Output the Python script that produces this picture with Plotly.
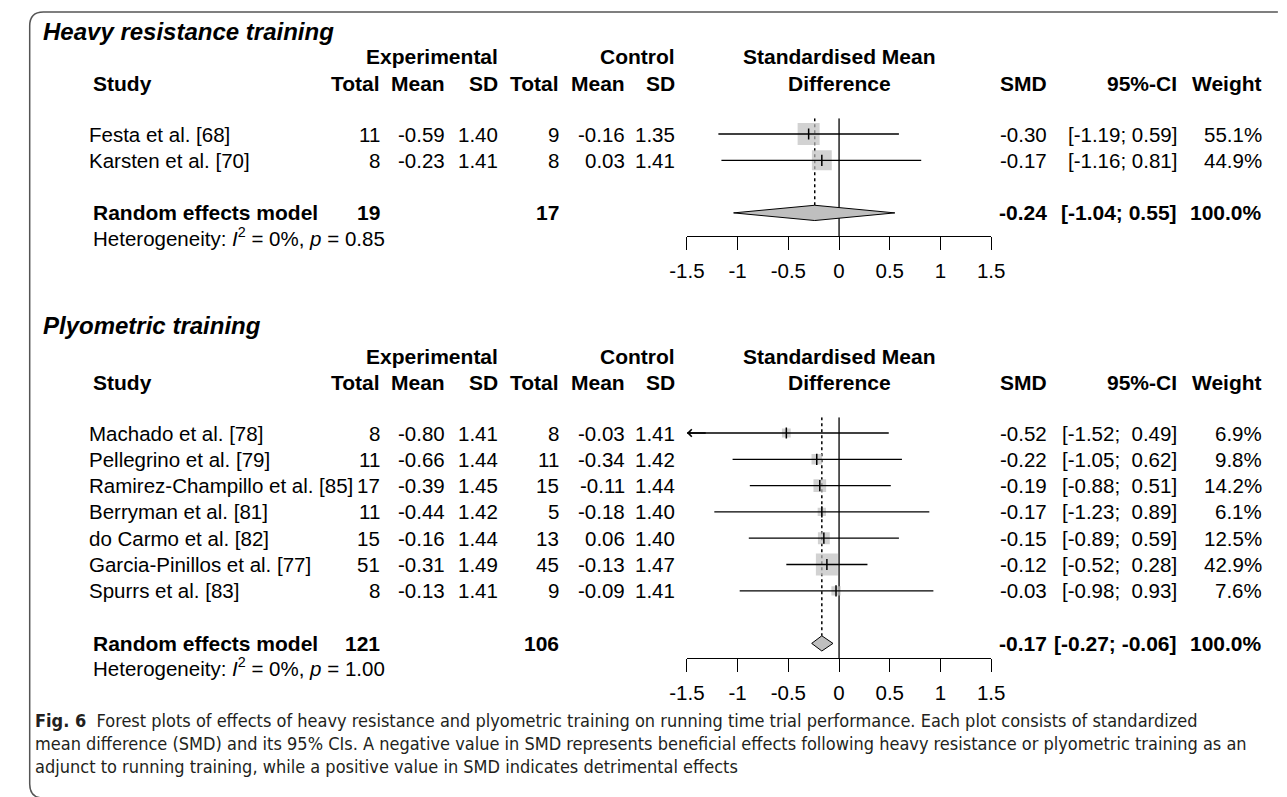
import plotly.graph_objects as go
import numpy as np

W, H = 1287, 797
FONT = "Liberation Sans, Arial, Helvetica, sans-serif"
CAP_FONT = "Liberation Sans Narrow, Arial Narrow, DejaVu Sans Condensed, sans-serif"
FS = 20.5
FS_HDR = 21

# ---------------- data ----------------
tick_vals = [-1.5, -1, -0.5, 0, 0.5, 1, 1.5]
tick_text = ["-1.5", "-1", "-0.5", "0", "0.5", "1", "1.5"]

hr_title = "Heavy resistance training"
hr_studies = ["Festa et al. [68]", "Karsten et al. [70]"]
hr_e_total = [11, 8]
hr_e_mean = [-0.59, -0.23]
hr_e_sd = [1.40, 1.41]
hr_c_total = [9, 8]
hr_c_mean = [-0.16, 0.03]
hr_c_sd = [1.35, 1.41]
hr_smd = [-0.30, -0.17]
hr_lo = [-1.19, -1.16]
hr_hi = [0.59, 0.81]
hr_weight = [55.1, 44.9]
hr_pool_e_total = 19
hr_pool_c_total = 17
hr_pool_smd = -0.24
hr_pool_lo = -1.04
hr_pool_hi = 0.55
hr_pool_weight = 100.0
hr_i2 = "0%"
hr_p = "0.85"

pl_title = "Plyometric training"
pl_studies = ["Machado et al. [78]", "Pellegrino et al. [79]", "Ramirez-Champillo et al. [85]",
              "Berryman et al. [81]", "do Carmo et al. [82]", "Garcia-Pinillos et al. [77]",
              "Spurrs et al. [83]"]
pl_e_total = [8, 11, 17, 11, 15, 51, 8]
pl_e_mean = [-0.80, -0.66, -0.39, -0.44, -0.16, -0.31, -0.13]
pl_e_sd = [1.41, 1.44, 1.45, 1.42, 1.44, 1.49, 1.41]
pl_c_total = [8, 11, 15, 5, 13, 45, 9]
pl_c_mean = [-0.03, -0.34, -0.11, -0.18, 0.06, -0.13, -0.09]
pl_c_sd = [1.41, 1.42, 1.44, 1.40, 1.40, 1.47, 1.41]
pl_smd = [-0.52, -0.22, -0.19, -0.17, -0.15, -0.12, -0.03]
pl_lo = [-1.52, -1.05, -0.88, -1.23, -0.89, -0.52, -0.98]
pl_hi = [0.49, 0.62, 0.51, 0.89, 0.59, 0.28, 0.93]
pl_weight = [6.9, 9.8, 14.2, 6.1, 12.5, 42.9, 7.6]
pl_pool_e_total = 121
pl_pool_c_total = 106
pl_pool_smd = -0.17
pl_pool_lo = -0.27
pl_pool_hi = -0.06
pl_pool_weight = 100.0
pl_i2 = "0%"
pl_p = "1.00"

caption_lines = [
    "<b>Fig. 6</b>  Forest plots of effects of heavy resistance and plyometric training on running time trial performance. Each plot consists of standardized",
    "mean difference (SMD) and its 95% CIs. A negative value in SMD represents beneficial effects following heavy resistance or plyometric training as an",
    "adjunct to running training, while a positive value in SMD indicates detrimental effects",
]

# ---------------- layout (pixels) ----------------
ROW_H = 26.3
X_STUDY, X_LAB, X_TITLE = 72, 76, 25
COLS = dict(e_total=372, e_mean=439, e_sd=493, c_total=556, c_mean=623, c_sd=675,
            smd=1056, ci=1190, w=1277)
PLOT_L, PLOT_R = 686, 998
PLOT_C = (PLOT_L + PLOT_R) / 2
XMIN, XMAX = -1.5, 1.5
SQ_MAX = 22
DH = 0.29
GRAY = "#bfbfbf"

panels = [
    dict(title_y=32, exp_y=57, hdr_y=83, row1=134, axis_y=236),
    dict(title_y=325, exp_y=356, hdr_y=382, row1=433, axis_y=658),
]
CAP_Y0, CAP_DY = 720, 23


def fx(px):
    return px / W


def fy(py):
    return 1 - py / H


fig = go.Figure()
annotations = []
shapes = []


def txt(px, py, s, anchor="right", size=FS, family=FONT, color="black"):
    annotations.append(dict(x=fx(px), y=fy(py), xref="paper", yref="paper", text=s,
                            showarrow=False, xanchor=anchor, yanchor="middle", borderpad=0,
                            font=dict(family=family, size=size, color=color)))


def ci_str(lo, hi, hi_all):
    fmt_hi = [f"{v:.2f}" for v in hi_all]
    width = max(len(s) for s in fmt_hi)
    h = f"{hi:.2f}"
    pad = "\u00a0" * (width - len(h))
    return f"[{lo:.2f}; {pad}{h}]"


def panel(idx, geo, title, studies, e_tot, e_mean, e_sd, c_tot, c_mean, c_sd,
          smd, lo, hi, wt, p_et, p_ct, p_smd, p_lo, p_hi, p_w, i2, pval):
    xa = "x" if idx == 0 else "x2"
    ya = "y" if idx == 0 else "y2"
    xlay = "xaxis" if idx == 0 else "xaxis2"
    ylay = "yaxis" if idx == 0 else "yaxis2"
    k = len(studies)
    rows = list(range(1, k + 1))
    model_r = k + 2

    def rpx(r):
        return geo["row1"] + (r - 1) * ROW_H

    r_top = 1 - 0.6
    r_bot = 1 + (geo["axis_y"] - geo["row1"]) / ROW_H

    # headers
    txt(X_TITLE, geo["title_y"], f"<b><i>{title}</i></b>", anchor="left", size=24)
    txt(COLS["e_sd"], geo["exp_y"], "<b>Experimental</b>", size=FS_HDR)
    txt(COLS["c_sd"], geo["exp_y"], "<b>Control</b>", size=FS_HDR)
    txt(PLOT_C, geo["exp_y"], "<b>Standardised Mean</b>", anchor="center", size=FS_HDR)
    txt(X_LAB, geo["hdr_y"], "<b>Study</b>", anchor="left", size=FS_HDR)
    for c, lab in [("e_total", "Total"), ("e_mean", "Mean"), ("e_sd", "SD"),
                   ("c_total", "Total"), ("c_mean", "Mean"), ("c_sd", "SD"),
                   ("smd", "SMD"), ("ci", "95%-CI"), ("w", "Weight")]:
        txt(COLS[c], geo["hdr_y"], f"<b>{lab}</b>", size=FS_HDR)
    txt(PLOT_C, geo["hdr_y"], "<b>Difference</b>", anchor="center", size=FS_HDR)

    hi_all = list(hi) + [p_hi]
    for i, r in enumerate(rows):
        y = rpx(r)
        txt(X_STUDY, y, studies[i], anchor="left")
        txt(COLS["e_total"], y, f"{e_tot[i]}")
        txt(COLS["e_mean"], y, f"{e_mean[i]:.2f}")
        txt(COLS["e_sd"], y, f"{e_sd[i]:.2f}")
        txt(COLS["c_total"], y, f"{c_tot[i]}")
        txt(COLS["c_mean"], y, f"{c_mean[i]:.2f}")
        txt(COLS["c_sd"], y, f"{c_sd[i]:.2f}")
        txt(COLS["smd"], y, f"{smd[i]:.2f}")
        txt(COLS["ci"], y, ci_str(lo[i], hi[i], hi_all))
        txt(COLS["w"], y, f"{wt[i]:.1f}%")

    ym = rpx(model_r)
    txt(X_LAB, ym, "<b>Random effects model</b>", anchor="left", size=FS_HDR)
    txt(COLS["e_total"], ym, f"<b>{p_et}</b>", size=FS_HDR)
    txt(COLS["c_total"], ym, f"<b>{p_ct}</b>", size=FS_HDR)
    txt(COLS["smd"], ym, f"<b>{p_smd:.2f}</b>", size=FS_HDR)
    txt(COLS["ci"], ym, f"<b>{ci_str(p_lo, p_hi, hi_all)}</b>", size=FS_HDR)
    txt(COLS["w"], ym, f"<b>{p_w:.1f}%</b>", size=FS_HDR)
    txt(X_LAB, ym + 24, f"Heterogeneity: <i>I</i><sup>2</sup> = {i2}, <i>p</i> = {pval}",
        anchor="left")

    # reference lines
    shapes.append(dict(type="line", xref=xa, yref=ya, x0=0, x1=0, y0=r_top, y1=r_bot,
                       line=dict(color="black", width=1.3), layer="below"))
    shapes.append(dict(type="line", xref=xa, yref=ya, x0=p_smd, x1=p_smd, y0=r_top,
                       y1=model_r - DH, line=dict(color="black", width=1.5, dash="dot"),
                       layer="below"))

    # squares (side proportional to sqrt of weight)
    wmax = max(wt)
    sizes = [SQ_MAX * np.sqrt(v / wmax) for v in wt]
    fig.add_trace(go.Scatter(x=smd, y=rows, mode="markers", xaxis=xa, yaxis=ya,
                             marker=dict(symbol="square", size=sizes, color=GRAY,
                                         line=dict(width=0)),
                             hoverinfo="skip", showlegend=False))
    # CI lines (clipped to the axis range)
    xs, ys = [], []
    for i, r in enumerate(rows):
        xs += [max(lo[i], XMIN), min(hi[i], XMAX), None]
        ys += [r, r, None]
    fig.add_trace(go.Scatter(x=xs, y=ys, mode="lines", xaxis=xa, yaxis=ya,
                             line=dict(color="black", width=1.3),
                             hoverinfo="skip", showlegend=False))
    for i, r in enumerate(rows):
        if lo[i] < XMIN:
            annotations.append(dict(x=XMIN, y=r, xref=xa, yref=ya, ax=XMIN + 0.2, ay=r,
                                    axref=xa, ayref=ya, text="", showarrow=True,
                                    arrowhead=4, arrowsize=1.1, arrowwidth=1.3,
                                    arrowcolor="black", standoff=0))
    # point estimate ticks
    fig.add_trace(go.Scatter(x=smd, y=rows, mode="markers", xaxis=xa, yaxis=ya,
                             marker=dict(symbol="line-ns", size=8,
                                         line=dict(color="black", width=1.5)),
                             hoverinfo="skip", showlegend=False))
    # pooled diamond
    fig.add_trace(go.Scatter(x=[p_lo, p_smd, p_hi, p_smd, p_lo],
                             y=[model_r, model_r - DH, model_r, model_r + DH, model_r],
                             mode="lines", fill="toself", fillcolor=GRAY,
                             line=dict(color="black", width=1), xaxis=xa, yaxis=ya,
                             hoverinfo="skip", showlegend=False))

    fig.layout[xlay] = dict(domain=[fx(PLOT_L), fx(PLOT_R)], range=[XMIN, XMAX],
                            anchor=ya, showline=True, linecolor="black", linewidth=1.3,
                            ticks="outside", ticklen=13, tickwidth=1.3, tickcolor="black",
                            tickmode="array", tickvals=tick_vals, ticktext=tick_text,
                            tickfont=dict(family=FONT, size=FS, color="black"),
                            ticklabelstandoff=3,
                            showgrid=False, zeroline=False, fixedrange=True)
    fig.layout[ylay] = dict(domain=[fy(geo["axis_y"]), fy(rpx(r_top))], range=[r_bot, r_top],
                            anchor=xa, visible=False, showgrid=False, zeroline=False,
                            fixedrange=True)


panel(0, panels[0], hr_title, hr_studies, hr_e_total, hr_e_mean, hr_e_sd, hr_c_total,
      hr_c_mean, hr_c_sd, hr_smd, hr_lo, hr_hi, hr_weight, hr_pool_e_total, hr_pool_c_total,
      hr_pool_smd, hr_pool_lo, hr_pool_hi, hr_pool_weight, hr_i2, hr_p)
panel(1, panels[1], pl_title, pl_studies, pl_e_total, pl_e_mean, pl_e_sd, pl_c_total,
      pl_c_mean, pl_c_sd, pl_smd, pl_lo, pl_hi, pl_weight, pl_pool_e_total, pl_pool_c_total,
      pl_pool_smd, pl_pool_lo, pl_pool_hi, pl_pool_weight, pl_i2, pl_p)

# caption
for i, line in enumerate(caption_lines):
    txt(16, CAP_Y0 + i * CAP_DY, line, anchor="left", size=18, family=CAP_FONT,
        color="#231f20")

# frame (rounded corners on the left)
R = 14
fl, ft, fb = 12, 12, 798
path = (f"M {fx(W + 5)},{fy(ft)} L {fx(fl + R)},{fy(ft)} Q {fx(fl)},{fy(ft)} {fx(fl)},{fy(ft + R)} "
        f"L {fx(fl)},{fy(fb - R)} Q {fx(fl)},{fy(fb)} {fx(fl + R)},{fy(fb)} L {fx(W + 5)},{fy(fb)}")
shapes.append(dict(type="path", xref="paper", yref="paper", path=path,
                   line=dict(color="#555555", width=1.5)))

fig.update_layout(width=W, height=H, margin=dict(l=0, r=0, t=0, b=0),
                  paper_bgcolor="white", plot_bgcolor="white", showlegend=False,
                  annotations=annotations, shapes=shapes)

fig.write_html("out.html", config={"displayModeBar": False},
               post_script="document.body.style.margin='0';document.body.style.overflow='hidden';")
